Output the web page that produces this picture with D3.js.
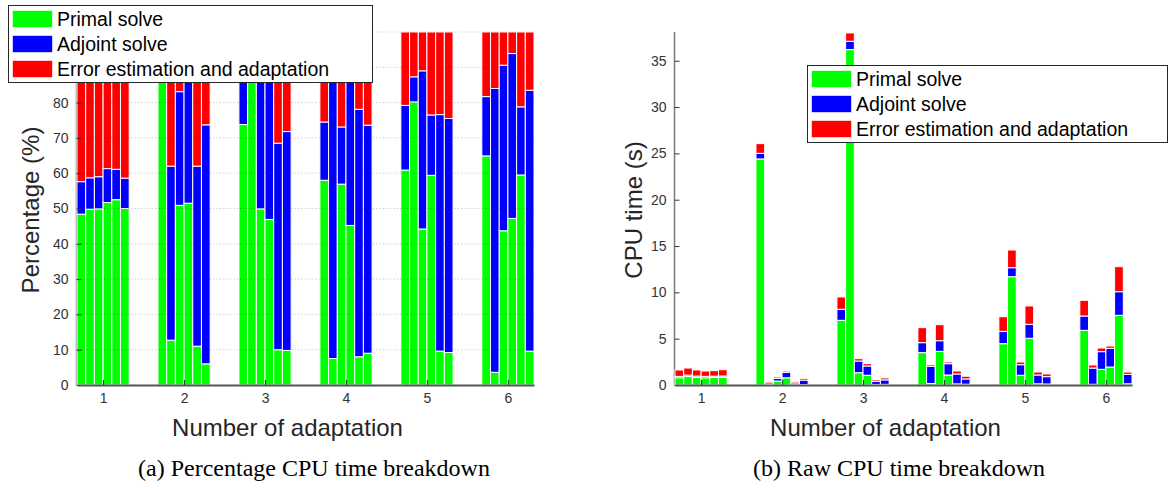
<!DOCTYPE html>
<html>
<head>
<meta charset="utf-8">
<script src="https://cdn.jsdelivr.net/npm/d3@7"></script>
<style>
  body { margin: 0; background: #fff; }
  svg { display: block; font-family: "Liberation Sans", Arial, sans-serif; }
</style>
</head>
<body>
<div id="chart"></div>
<script>
// data: 6 adaptations x 6 runs each
var groups = [1, 2, 3, 4, 5, 6];
var seriesNames = ["Primal solve", "Adjoint solve", "Error estimation and adaptation"];
var seriesColors = ["#00ff00", "#0000ff", "#ff0000"];

// (a) percentages
var pctPrimal = [
  [48.4, 49.8, 49.9, 51.7, 52.5, 50.0],
  [93.5, 12.7, 50.9, 51.5, 11.0, 6.0],
  [73.8, 95.3, 49.9, 46.9, 10.0, 9.8],
  [58.0, 7.5, 56.9, 45.2, 8.0, 9.0],
  [60.9, 80.2, 44.2, 59.4, 9.6, 9.2],
  [64.9, 3.6, 43.7, 47.2, 59.5, 9.6]
];
var pctAdjoint = [
  [9.2, 8.9, 9.1, 9.6, 8.6, 8.6],
  [2.3, 49.3, 32.2, 39.2, 51.0, 67.7],
  [12.2, 2.3, 41.3, 42.2, 58.5, 62.0],
  [16.5, 85.0, 16.2, 47.5, 70.1, 64.6],
  [18.3, 7.1, 44.8, 17.1, 67.0, 66.3],
  [16.8, 80.4, 46.9, 46.7, 19.3, 73.9]
];
var pctError = [
  [42.4, 41.3, 41.0, 38.7, 38.9, 41.4],
  [4.2, 38.0, 16.9, 9.3, 38.0, 26.3],
  [14.0, 2.4, 8.8, 10.9, 31.5, 28.2],
  [25.5, 7.5, 26.9, 7.3, 21.9, 26.4],
  [20.8, 12.7, 11.0, 23.5, 23.4, 24.5],
  [18.3, 16.0, 9.4, 6.1, 21.2, 16.5]
];

// (b) raw cpu time in seconds
var cpuPrimal = [
  [0.78, 0.91, 0.81, 0.78, 0.81, 0.83],
  [24.4, 0.05, 0.43, 0.78, 0.04, 0.04],
  [6.98, 36.2, 1.33, 1.05, 0.06, 0.07],
  [3.49, 0.16, 3.63, 1.08, 0.12, 0.085],
  [4.46, 11.69, 1.05, 5.04, 0.13, 0.11],
  [5.9, 0.08, 1.69, 1.94, 7.52, 0.13]
];
var cpuAdjoint = [
  [0.15, 0.16, 0.15, 0.15, 0.14, 0.14],
  [0.6, 0.18, 0.28, 0.59, 0.18, 0.49],
  [1.19, 0.9, 1.26, 1.0, 0.34, 0.48],
  [1.08, 1.86, 1.15, 1.22, 1.07, 0.57],
  [1.33, 0.97, 1.14, 1.51, 0.95, 0.79],
  [1.55, 1.75, 1.91, 2.02, 2.55, 1.02]
];
var cpuError = [
  [0.69, 0.76, 0.66, 0.58, 0.60, 0.68],
  [1.05, 0.14, 0.15, 0.14, 0.14, 0.19],
  [1.33, 0.9, 0.25, 0.25, 0.17, 0.21],
  [1.62, 0.17, 1.73, 0.18, 0.32, 0.29],
  [1.58, 1.91, 0.29, 1.98, 0.32, 0.29],
  [1.69, 0.33, 0.39, 0.25, 2.7, 0.25]
];

var pctTicks = d3.range(0, 101, 10);
var pctLabelled = d3.range(0, 81, 10); // 90 and 100 sit under the legend
var cpuTicks = d3.range(0, 36, 5);

var W = 1169, H = 488;
var svg = d3.select("#chart").append("svg").attr("width", W).attr("height", H);
svg.append("rect").attr("width", W).attr("height", H).attr("fill", "#fff");

var barStep = 0.1074; // one bar, in group units

function stackRows(p, a, e) {
  var rows = [];
  groups.forEach(function (g, gi) {
    for (var j = 0; j < 6; j++) {
      rows.push({ g: g, j: j, vals: [p[gi][j], a[gi][j], e[gi][j]] });
    }
  });
  return rows;
}

function drawPanel(o) {
  var x = d3.scaleLinear().domain([1 - 3 * barStep, 6 + 3 * barStep]).range([o.x0, o.x1]);
  var y = d3.scaleLinear().domain([0, o.ymax]).range([385, 32]);
  var bw = x(barStep) - x(0);
  var panel = svg.append("g");

  // y axis line
  panel.append("line").attr("x1", o.x0 - 0.5).attr("x2", o.x0 - 0.5).attr("y1", 32).attr("y2", 385)
    .attr("stroke", "#7a7a7a").attr("stroke-width", 1.5);

  var rows = stackRows(o.p, o.a, o.e);
  rows.forEach(function (r) {
    var base = 0;
    var cx = x(r.g + (r.j - 2.5) * barStep);
    r.vals.forEach(function (v, k) {
      panel.append("rect")
        .attr("x", cx - bw / 2).attr("width", bw)
        .attr("y", y(base + v)).attr("height", y(base) - y(base + v))
        .attr("fill", seriesColors[k]).attr("stroke", "#fff").attr("stroke-width", 1);
      base += v;
    });
  });

  if (o.grid) {
    o.ticks.slice(1).forEach(function (t) {
      panel.append("line").attr("x1", o.x0).attr("x2", o.x1).attr("y1", y(t)).attr("y2", y(t))
        .attr("stroke", "#262626").attr("stroke-opacity", 0.25).attr("stroke-dasharray", "1.2,2.2");
    });
  }

  var ya = panel.append("g").attr("transform", "translate(" + (o.x0 - 0.5) + ",0)")
    .call(d3.axisLeft(y).tickValues(o.labelled).tickFormat(d3.format("d"))
      .tickSizeInner(-5).tickSizeOuter(0).tickPadding(8));
  ya.select(".domain").remove();
  ya.selectAll("line").attr("stroke", "#333");
  ya.selectAll("text").attr("font-size", 14).attr("fill", "#333").attr("font-family", "Liberation Sans");

  var xa = panel.append("g").attr("transform", "translate(0,385)")
    .call(d3.axisBottom(x).tickValues(groups).tickFormat(d3.format("d"))
      .tickSizeInner(-5).tickSizeOuter(0).tickPadding(8));
  xa.select(".domain").attr("stroke", "#555").attr("stroke-width", 2);
  xa.selectAll("line").attr("stroke", "#333");
  xa.selectAll("text").attr("font-size", 14).attr("fill", "#333").attr("font-family", "Liberation Sans");

  panel.append("text").attr("x", (o.x0 + o.x1) / 2 - 18).attr("y", 436).attr("text-anchor", "middle")
    .attr("font-size", 24).attr("fill", "#262626").text("Number of adaptation");
  panel.append("text").attr("transform", "translate(" + o.ylabX + ",210) rotate(-90)")
    .attr("text-anchor", "middle").attr("font-size", 24).attr("fill", "#262626").text(o.ylabel);

  // legend
  var lg = panel.append("g");
  lg.append("rect").attr("x", o.lx + 0.5).attr("y", o.ly + 0.5).attr("width", o.lw).attr("height", 77)
    .attr("fill", "#fff").attr("stroke", "#262626").attr("stroke-width", 1);
  seriesNames.forEach(function (s, k) {
    var cy = o.ly + 14 + k * 25;
    lg.append("rect").attr("x", o.lx + 4.5).attr("y", cy - 8.5).attr("width", 40).attr("height", 17)
      .attr("fill", seriesColors[k]).attr("stroke", "#fff").attr("stroke-opacity", 0.6);
    lg.append("text").attr("x", o.lx + 49).attr("y", cy + 7).attr("font-size", 19.5)
      .attr("fill", "#000").text(s);
  });

  svg.append("text").attr("x", o.capX).attr("y", 476).attr("text-anchor", "middle")
    .attr("font-family", "Liberation Serif").attr("font-size", 24).attr("fill", "#000").text(o.caption);
}

drawPanel({
  x0: 77, x1: 534, ymax: 100, ticks: pctTicks, labelled: pctLabelled, grid: true,
  p: pctPrimal, a: pctAdjoint, e: pctError,
  ylabel: "Percentage (%)", ylabX: 39,
  lx: 8, ly: 5, lw: 364,
  caption: "(a)  Percentage CPU time breakdown", capX: 314
});

drawPanel({
  x0: 675, x1: 1132, ymax: 38.1, ticks: cpuTicks, labelled: cpuTicks, grid: false,
  p: cpuPrimal, a: cpuAdjoint, e: cpuError,
  ylabel: "CPU time (s)", ylabX: 642,
  lx: 807, ly: 65, lw: 360,
  caption: "(b)  Raw CPU time breakdown", capX: 899
});
</script>
</body>
</html>
